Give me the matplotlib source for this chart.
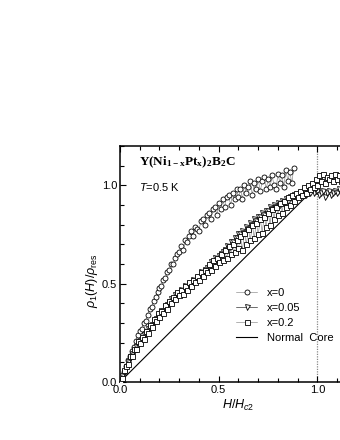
import matplotlib
matplotlib.use('Agg')
import matplotlib.pyplot as plt

plt.rcParams['font.family'] = ['Liberation Sans', 'DejaVu Sans']
plt.rcParams['mathtext.fontset'] = 'custom'
plt.rcParams['mathtext.rm'] = 'Liberation Sans'
plt.rcParams['mathtext.it'] = 'Liberation Sans:italic'
plt.rcParams['mathtext.bf'] = 'Liberation Serif:bold'

# reduced field H/Hc2 (sweep points)
h = [0.00, 0.01, 0.02, 0.03, 0.04, 0.05, 0.06, 0.07, 0.08, 0.09,
     0.10, 0.11, 0.12, 0.13, 0.14, 0.15, 0.16, 0.17, 0.18, 0.19,
     0.20, 0.21, 0.22, 0.23, 0.24, 0.25, 0.26, 0.27, 0.28, 0.29,
     0.30, 0.31, 0.32, 0.33, 0.34, 0.35, 0.36, 0.37, 0.38, 0.39,
     0.40, 0.41, 0.42, 0.43, 0.44, 0.45, 0.46, 0.47, 0.48, 0.49,
     0.50, 0.51, 0.52, 0.53, 0.54, 0.55, 0.56, 0.57, 0.58, 0.59,
     0.60, 0.61, 0.62, 0.63, 0.64, 0.65, 0.66, 0.67, 0.68, 0.69,
     0.70, 0.71, 0.72, 0.73, 0.74, 0.75, 0.76, 0.77, 0.78, 0.79,
     0.80, 0.81, 0.82, 0.83, 0.84, 0.85, 0.86, 0.87, 0.88, 0.89,
     0.90, 0.91, 0.92, 0.93, 0.94, 0.95, 0.96, 0.97, 0.98, 0.99,
     1.00, 1.01, 1.02, 1.03, 1.04, 1.05, 1.06, 1.07, 1.08, 1.09,
     1.10, 1.11, 1.12, 1.13, 1.14, 1.15, 1.16, 1.17, 1.18, 1.19,
     1.20]

# x=0
rho_x0 = [0.00, 0.03, 0.05, 0.08, 0.11, 0.13, 0.16, 0.18, 0.21, 0.24,
          0.26, 0.27, 0.30, 0.31, 0.34, 0.37, 0.38, 0.41, 0.43, 0.46,
          0.48, 0.49, 0.52, 0.53, 0.56, 0.57, 0.60, 0.60, 0.63, 0.65,
          0.66, 0.69, 0.67, 0.72, 0.71, 0.74, 0.77, 0.74, 0.79, 0.78,
          0.77, 0.82, 0.83, 0.80, 0.85, 0.86, 0.83, 0.88, 0.89, 0.85,
          0.91, 0.88, 0.93, 0.89, 0.94, 0.95, 0.90, 0.96, 0.93, 0.98,
          0.94, 0.98, 0.93, 1.00, 0.96, 0.99, 1.02, 0.95, 1.01, 0.98,
          1.03, 0.97, 1.02, 1.04, 0.98, 1.03, 0.99, 1.05, 1.00, 0.98,
          1.06, 1.01, 1.05, 0.99, 1.08, 1.02, 1.07, 1.01, 1.09]

# x=0.05
rho_x005 = [0.00, 0.03, 0.05, 0.07, 0.10, 0.12, 0.14, 0.16, 0.18, 0.19,
            0.21, 0.22, 0.24, 0.25, 0.27, 0.28, 0.29, 0.31, 0.32, 0.33,
            0.34, 0.36, 0.36, 0.38, 0.39, 0.40, 0.42, 0.41, 0.44, 0.45,
            0.45, 0.47, 0.46, 0.49, 0.48, 0.50, 0.49, 0.52, 0.51, 0.53,
            0.53, 0.56, 0.55, 0.57, 0.58, 0.58, 0.61, 0.60, 0.63, 0.62,
            0.64, 0.65, 0.66, 0.67, 0.69, 0.68, 0.71, 0.71, 0.73, 0.73,
            0.75, 0.75, 0.77, 0.76, 0.79, 0.78, 0.81, 0.80, 0.83, 0.82,
            0.84, 0.84, 0.86, 0.85, 0.87, 0.87, 0.89, 0.88, 0.90, 0.89,
            0.91, 0.90, 0.92, 0.91, 0.93, 0.92, 0.94, 0.93, 0.95, 0.94,
            0.95, 0.96, 0.95, 0.97, 0.95, 0.97, 0.96, 0.98, 0.96, 0.97,
            0.97, 0.95, 0.96, 0.97, 0.94, 0.96, 0.97, 0.95, 0.96, 0.97,
            0.96, 0.98, 0.95, 0.97, 0.96, 0.98, 0.96, 0.97, 0.95, 0.97,
            0.96]

# x=0.2
rho_x02 = [0.00, 0.02, 0.06, 0.08, 0.09, 0.13, 0.13, 0.17, 0.17, 0.21,
           0.20, 0.23, 0.22, 0.26, 0.25, 0.29, 0.28, 0.32, 0.31, 0.35,
           0.33, 0.36, 0.35, 0.39, 0.37, 0.41, 0.40, 0.43, 0.42, 0.46,
           0.44, 0.47, 0.45, 0.49, 0.47, 0.51, 0.49, 0.52, 0.51, 0.54,
           0.52, 0.56, 0.54, 0.57, 0.56, 0.60, 0.57, 0.62, 0.59, 0.63,
           0.61, 0.65, 0.62, 0.67, 0.63, 0.69, 0.65, 0.70, 0.66, 0.72,
           0.68, 0.74, 0.67, 0.76, 0.70, 0.78, 0.72, 0.80, 0.73, 0.81,
           0.75, 0.83, 0.76, 0.84, 0.79, 0.86, 0.80, 0.88, 0.83, 0.89,
           0.85, 0.91, 0.86, 0.92, 0.89, 0.94, 0.90, 0.95, 0.92, 0.96,
           0.94, 0.97, 0.95, 0.99, 0.96, 1.00, 0.98, 1.01, 0.99, 1.03,
           1.00, 1.05, 1.02, 1.06, 1.01, 1.04, 1.03, 1.05, 1.02, 1.06,
           1.03, 1.05, 1.02, 1.04, 1.03, 1.06, 1.02, 1.04, 1.03, 1.05,
           1.04]

core_h = [0.0, 1.0]
core_rho = [0.0, 1.0]

fig = plt.figure(figsize=(3.4, 4.4), dpi=100)
ax = fig.add_axes([0.3529, 0.1318, 0.6971, 0.5364])

ax.axvline(1.0, color='#888888', lw=0.9, ls=(0, (1, 1)), zorder=1)
lc, = ax.plot(core_h, core_rho, color='k', lw=0.8, label='Normal  Core', zorder=2)

mk = dict(ms=3.6, mew=0.6, mfc='white', mec='k', lw=0.4)
l1, = ax.plot(h[:len(rho_x0)], rho_x0, marker='o', color='#777777', label='x=0', zorder=3, **mk)
l2, = ax.plot(h, rho_x005, marker='v', color='k', label='x=0.05', zorder=3, **mk)
l3, = ax.plot(h, rho_x02, marker='s', color='#777777', label='x=0.2', zorder=3, **mk)

ax.set_xlim(0, 1.2)
ax.set_ylim(0, 1.2)
ax.set_xticks([0, 0.5, 1.0])
ax.set_yticks([0, 0.5, 1.0])
ax.set_xticks([i / 10 for i in range(13)], minor=True)
ax.set_yticks([i / 10 for i in range(13)], minor=True)
ax.set_xticklabels(['0.0', '0.5', '1.0'])
ax.set_yticklabels(['0.0', '0.5', '1.0'])
ax.tick_params(which='both', direction='in', top=True, right=True, labelsize=8, width=0.8)
ax.tick_params(which='major', length=4.5, pad=2)
ax.tick_params(which='minor', length=2.8)
for s in ax.spines.values():
    s.set_linewidth(1.1)

ax.set_xlabel(r'$H/H_{c2}$', fontsize=9, labelpad=2)
ax.set_ylabel(r'$\rho_1(H)/\rho_{\rm res}$', fontsize=9)
ax.yaxis.set_label_coords(-0.085, 0.43)

ax.text(0.096, 1.115, r'$\mathbf{Y(Ni_{1-x}Pt_x)_2B_2C}$', fontsize=9.5, va='center', ha='left')
ax.text(0.096, 0.99, r'$T$=0.5 K', fontsize=8, va='center', ha='left')

ax.legend(handles=[l1, l2, l3, lc], loc='upper left', bbox_to_anchor=(0.49, 0.40),
          frameon=False, fontsize=8, handlelength=1.9, handletextpad=0.9,
          labelspacing=0.45, borderpad=0, borderaxespad=0)

fig.savefig('out.png', dpi=100)
